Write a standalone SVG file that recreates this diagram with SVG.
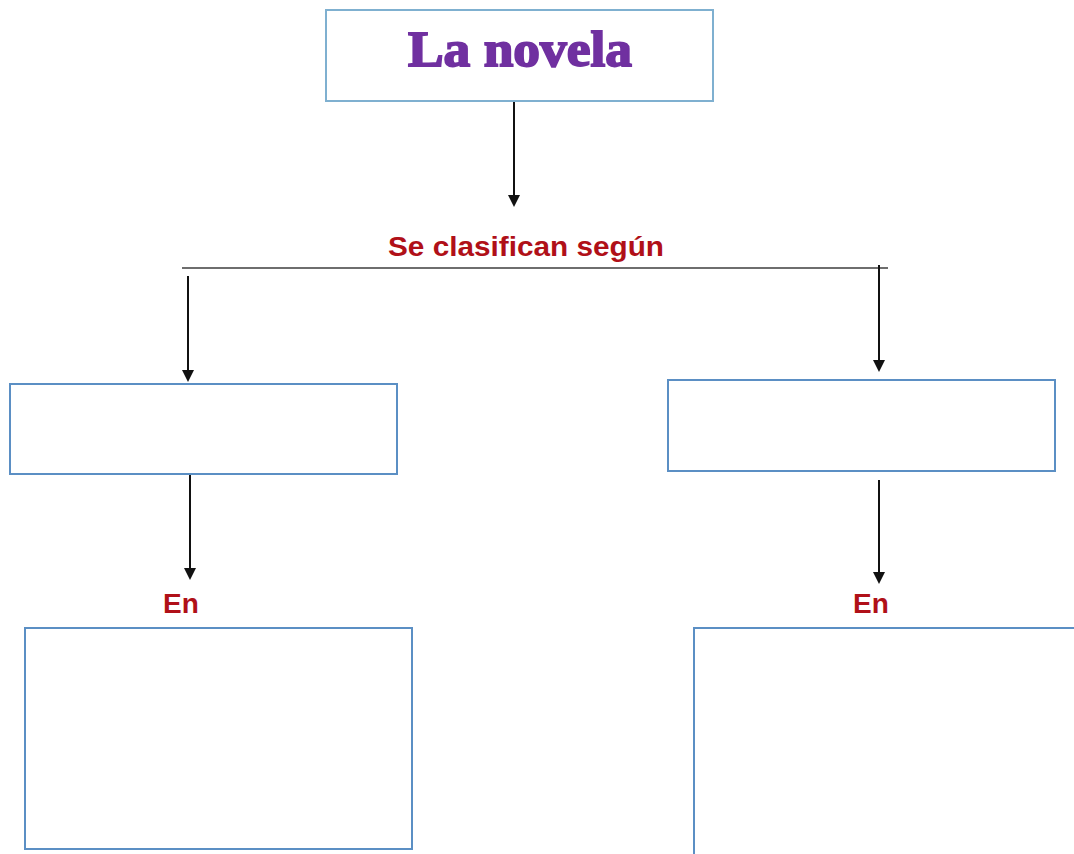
<svg xmlns="http://www.w3.org/2000/svg" width="1074" height="854" viewBox="0 0 1074 854">
<defs>
<style>
.box{fill:#ffffff;stroke:#5b8fc4;stroke-width:2}
.top{fill:#ffffff;stroke:#7fb0d0;stroke-width:2}
.title{font-family:"Liberation Serif",serif;font-weight:bold;font-size:50px;fill:#7030a0;stroke:#7030a0;stroke-width:1.8}
.lbl{font-family:"Liberation Sans",Arial,sans-serif;font-weight:bold;fill:#b01018}
.conn{stroke:#111;stroke-width:2;fill:none}
</style>
<marker id="ah" markerWidth="12" markerHeight="12" refX="10" refY="6" orient="auto" markerUnits="userSpaceOnUse">
<path d="M0,0 L12,6 L0,12 z" fill="#111"/>
</marker>
</defs>
<rect width="1074" height="854" fill="#ffffff"/>
<g id="connectors">
<line class="conn" x1="514" y1="101" x2="514" y2="205" marker-end="url(#ah)"/>
<line x1="182" y1="268" x2="888" y2="268" stroke="#6e6e6e" stroke-width="2"/>
<line class="conn" x1="188" y1="276" x2="188" y2="380" marker-end="url(#ah)"/>
<line class="conn" x1="879" y1="265" x2="879" y2="370" marker-end="url(#ah)"/>
<line class="conn" x1="190" y1="474" x2="190" y2="578" marker-end="url(#ah)"/>
<line class="conn" x1="879" y1="480" x2="879" y2="582" marker-end="url(#ah)"/>
</g>
<g id="node-title">
<rect class="top" x="326" y="10" width="387" height="91"/>
<text class="title" x="520" y="66" text-anchor="middle" textLength="224" lengthAdjust="spacingAndGlyphs">La novela</text>
</g>
<g id="label-clasifican">
<text class="lbl" x="526" y="256" font-size="27" text-anchor="middle" textLength="276" lengthAdjust="spacingAndGlyphs">Se clasifican según</text>
</g>
<g id="node-left">
<rect class="box" x="10" y="384" width="387" height="90" stroke="#7fb0d0"/>
</g>
<g id="node-right">
<rect class="box" x="668" y="380" width="387" height="91"/>
</g>
<g id="label-en-left">
<text class="lbl" x="181" y="613" font-size="28" text-anchor="middle">En</text>
</g>
<g id="label-en-right">
<text class="lbl" x="871" y="613" font-size="28" text-anchor="middle">En</text>
</g>
<g id="node-bottom-left">
<rect class="box" x="25" y="628" width="387" height="221"/>
</g>
<g id="node-bottom-right">
<rect class="box" x="694" y="628" width="390" height="240"/>
</g>
</svg>
